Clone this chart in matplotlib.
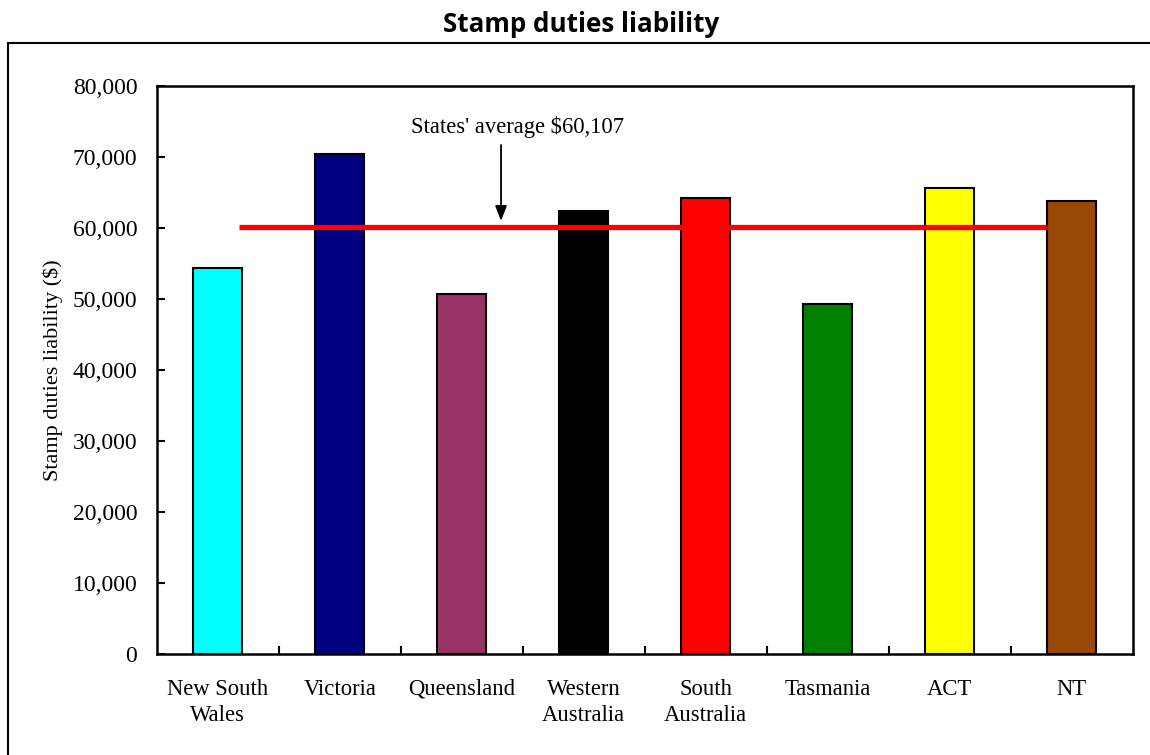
import matplotlib
matplotlib.use("Agg")
import matplotlib.pyplot as plt
from matplotlib.patches import Rectangle

# Stamp duty liability by state/territory
states = ["New South\nWales", "Victoria", "Queensland", "Western\nAustralia",
          "South\nAustralia", "Tasmania", "ACT", "NT"]
liability = [54400, 70400, 50700, 62400, 64200, 49300, 65600, 63800]
bar_colors = ["#00FFFF", "#000080", "#993366", "#000000",
              "#FF0000", "#008000", "#FFFF00", "#9A4806"]
states_average = 60107
yticks = list(range(0, 80001, 10000))

serif = ["Liberation Serif", "DejaVu Serif"]

fig = plt.figure(figsize=(11.5, 7.55), dpi=100)
ax = fig.add_axes([0.1363, 0.1338, 0.8487, 0.7522])

x = list(range(len(states)))
ax.bar(x, liability, width=0.4, color=bar_colors, edgecolor="black",
       linewidth=1.5, zorder=2)

# States' average reference line
ax.plot([0.175, 6.8], [states_average, states_average], color="#FF0000",
        linewidth=3.8, solid_capstyle="butt", zorder=3)
ax.annotate("", xy=(2.322, states_average + 900), xytext=(2.322, 71700),
            arrowprops=dict(arrowstyle="-|>,head_length=0.9,head_width=0.35",
                            color="black", lw=1.3, shrinkA=0, shrinkB=0),
            zorder=4)
ax.text(2.46, 74300, "States' average $%s" % format(states_average, ","),
        ha="center", va="center", fontsize=16.3, family=serif)

ax.set_xlim(-0.5, 7.5)
ax.set_ylim(0, 80000)
ax.set_yticks(yticks)
ax.set_yticklabels([format(v, ",") for v in yticks], family=serif, fontsize=17)
ax.tick_params(axis="y", direction="in", length=6, width=1.5, pad=14)

ax.set_xticks(x)
ax.set_xticklabels(states, family=serif, fontsize=16.3, linespacing=1.3)
ax.tick_params(axis="x", which="major", length=0, pad=18)
ax.set_xticks([i + 0.5 for i in range(len(states) - 1)], minor=True)
ax.tick_params(axis="x", which="minor", direction="in", length=6, width=1.5)

for s in ax.spines.values():
    s.set_linewidth(1.8)

ax.set_ylabel("Stamp duties liability ($)", family=serif, fontsize=16,
              labelpad=7)

fig.suptitle("Stamp duties liability", x=0.505, y=0.985, fontsize=18.7,
             fontweight="bold", family=["Open Sans", "DejaVu Sans"])

# Chart-area frame
fig.patches.append(Rectangle((8 / 1150, -0.05), 1.2, (755 - 43) / 755 + 0.05,
                             transform=fig.transFigure, fill=False,
                             edgecolor="black", linewidth=1.5, zorder=0))

fig.savefig("out.png", dpi=100)
